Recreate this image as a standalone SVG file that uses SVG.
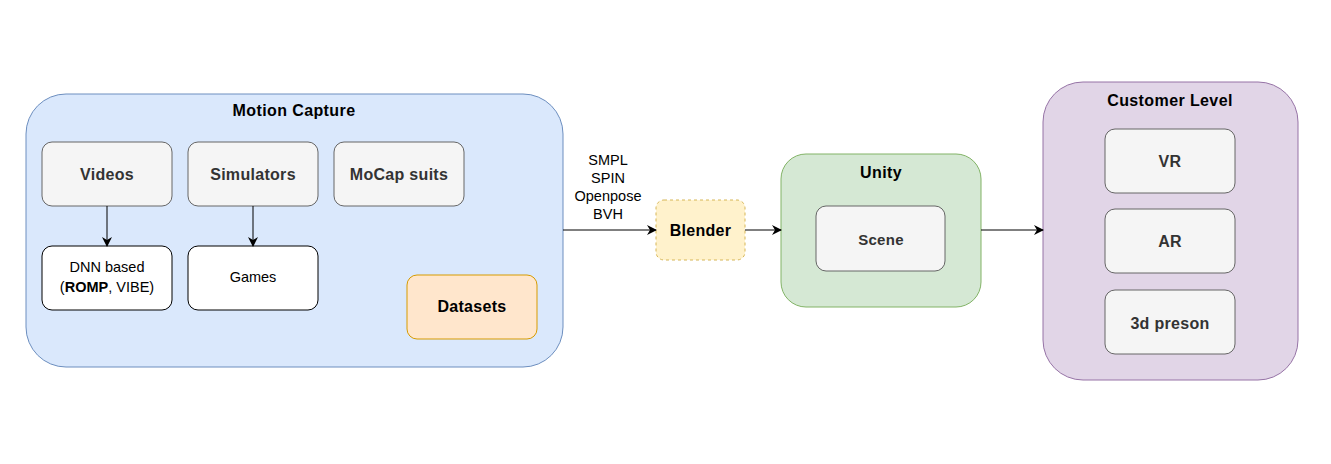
<svg xmlns="http://www.w3.org/2000/svg" width="1331" height="464" viewBox="0 0 1331 464">
<defs>
<marker id="arr" viewBox="0 0 10 10" refX="9" refY="5" markerWidth="10" markerHeight="10" markerUnits="userSpaceOnUse" orient="auto">
<path d="M0,0 L10,5 L0,10 L3,5 Z" fill="#000"/>
</marker>
<style>
text{font-family:"Liberation Sans",Arial,sans-serif;text-anchor:middle}
.t{font-size:16px;font-weight:bold;fill:#000;letter-spacing:0.4px}
.g{fill:#f5f5f5;stroke:#666;stroke-width:1}
.gl{font-size:16px;font-weight:bold;fill:#333;letter-spacing:0.3px}
.w{fill:#fff;stroke:#000;stroke-width:1}
.wl{font-size:14.5px;fill:#000}
.c{fill:none;stroke:#000;stroke-width:1;marker-end:url(#arr)}
</style>
</defs>
<rect width="1331" height="464" fill="#fff"/>
<g id="motion-capture">
<rect x="26" y="94" width="537" height="273" rx="40" fill="#dae8fc" stroke="#6c8ebf"/>
<text class="t" x="294" y="116">Motion Capture</text>
</g>
<g id="videos"><rect class="g" x="42" y="142" width="130" height="64" rx="10"/><text class="gl" x="107" y="180">Videos</text></g>
<g id="simulators"><rect class="g" x="188" y="142" width="130" height="64" rx="10"/><text class="gl" x="253" y="180">Simulators</text></g>
<g id="mocap"><rect class="g" x="334" y="142" width="130" height="64" rx="10"/><text class="gl" x="399" y="180">MoCap suits</text></g>
<g id="dnn"><rect class="w" x="42" y="246" width="130" height="64" rx="10"/><text class="wl" x="107" y="272">DNN based</text><text class="wl" x="107" y="292">(<tspan font-weight="bold">ROMP</tspan>, VIBE)</text></g>
<g id="games"><rect class="w" x="188" y="246" width="130" height="64" rx="10"/><text class="wl" x="253" y="282">Games</text></g>
<g id="datasets"><rect x="407" y="275" width="130" height="64" rx="10" fill="#ffe6cc" stroke="#d79b00"/><text class="gl" x="472" y="312" style="fill:#000">Datasets</text></g>
<g id="blender"><rect x="656" y="200" width="89" height="60" rx="8" fill="#fff2cc" stroke="#d6b656" stroke-dasharray="3,3"/><text class="gl" x="700.5" y="236" style="fill:#000">Blender</text></g>
<g id="unity">
<rect x="781" y="154" width="200" height="153" rx="25" fill="#d5e8d4" stroke="#82b366"/>
<text class="t" x="881" y="178">Unity</text>
</g>
<g id="scene"><rect class="g" x="816" y="206" width="129" height="65" rx="10"/><text class="gl" x="881" y="245" style="font-size:15px">Scene</text></g>
<g id="customer-level">
<rect x="1043" y="82" width="255" height="298" rx="40" fill="#e1d5e7" stroke="#9673a6"/>
<text class="t" x="1170" y="106">Customer Level</text>
</g>
<g id="vr"><rect class="g" x="1105" y="129" width="130" height="64" rx="10"/><text class="gl" x="1170" y="167">VR</text></g>
<g id="ar"><rect class="g" x="1105" y="209" width="130" height="64" rx="10"/><text class="gl" x="1170" y="247">AR</text></g>
<g id="person"><rect class="g" x="1105" y="290" width="130" height="64" rx="10"/><text class="gl" x="1170" y="329">3d preson</text></g>
<g id="connectors">
<path class="c" d="M107,206 V246"/>
<path class="c" d="M253,206 V246"/>
<path class="c" d="M563,230 H656"/>
<path class="c" d="M745,230 H781"/>
<path class="c" d="M981,230 H1043"/>
<g class="wl" style="font-size:14.5px">
<text x="608" y="165">SMPL</text>
<text x="608" y="183">SPIN</text>
<text x="608" y="201">Openpose</text>
<text x="608" y="219">BVH</text>
</g>
</g>
</svg>
